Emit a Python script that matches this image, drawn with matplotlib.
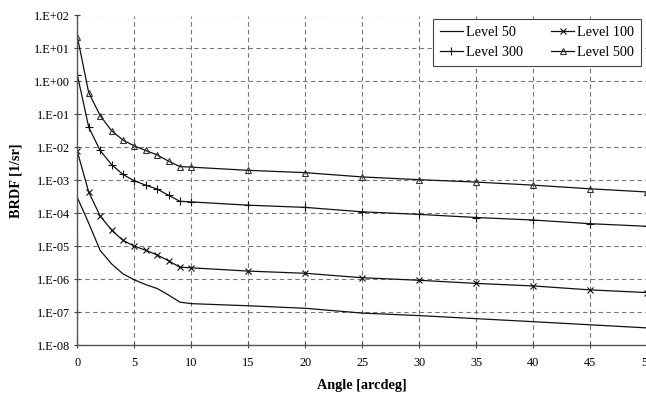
import math
import matplotlib
matplotlib.use("Agg")
import matplotlib.pyplot as plt
from matplotlib.ticker import FixedLocator, FuncFormatter

plt.rcParams['font.family'] = ['Liberation Serif', 'DejaVu Serif']

angles = [0, 1, 2, 3, 4, 5, 6, 7, 8, 9, 10, 15, 20, 25, 30, 35, 40, 45, 50]

level_50 = [3.0e-4, 5.0e-5, 7.5e-6, 2.9e-6, 1.45e-6, 9.5e-7, 6.8e-7, 5.2e-7, 3.3e-7, 2.0e-7, 1.8e-7,
            1.55e-7, 1.3e-7, 9.3e-8, 7.8e-8, 6.3e-8, 5.1e-8, 4.1e-8, 3.3e-8]
level_100 = [7.5e-3, 4.4e-4, 8.3e-5, 3.1e-5, 1.5e-5, 1.0e-5, 7.5e-6, 5.4e-6, 3.6e-6, 2.3e-6, 2.2e-6,
             1.75e-6, 1.5e-6, 1.1e-6, 9.2e-7, 7.4e-7, 6.2e-7, 4.7e-7, 3.9e-7]
level_300 = [1.6, 4.1e-2, 8.0e-3, 3.0e-3, 1.5e-3, 9.6e-4, 7.1e-4, 5.4e-4, 3.5e-4, 2.3e-4, 2.2e-4,
             1.75e-4, 1.5e-4, 1.1e-4, 9.2e-5, 7.4e-5, 6.2e-5, 4.8e-5, 4.0e-5]
level_500 = [23.0, 0.46, 0.092, 0.032, 0.0166, 0.011, 0.0080, 0.0059, 0.0038, 0.0026, 0.0025,
             2.0e-3, 1.7e-3, 1.26e-3, 1.04e-3, 8.8e-4, 7.1e-4, 5.5e-4, 4.4e-4]

x_ticks = [0, 5, 10, 15, 20, 25, 30, 35, 40, 45, 50]
y_ticks = [1e2, 1e1, 1e0, 1e-1, 1e-2, 1e-3, 1e-4, 1e-5, 1e-6, 1e-7, 1e-8]

fig = plt.figure(figsize=(6.46, 3.97), dpi=100)
ax = fig.add_axes([77.3 / 646, 1 - 345 / 397, (647.3 - 77.3) / 646, (345 - 15.5) / 397])

h50, = ax.plot(angles, level_50, color='#111111', lw=0.9, label='Level 50')
h100, = ax.plot(angles, level_100, color='#111111', lw=0.9, marker='x', ms=4.5, mew=0.8, label='Level 100')
h300, = ax.plot(angles, level_300, color='#111111', lw=0.9, marker='+', ms=6, mew=0.8, label='Level 300')
h500, = ax.plot(angles, level_500, color='#111111', lw=0.9, marker='^', ms=4.5, mew=0.8,
                mfc='none', mec='#333333', label='Level 500')

ax.set_yscale('log')
ax.set_xlim(0, 50)
ax.set_ylim(1e-8, 1e2)
ax.xaxis.set_major_locator(FixedLocator(x_ticks))
ax.yaxis.set_major_locator(FixedLocator(y_ticks))
ax.yaxis.set_minor_locator(FixedLocator([]))


def fmt(v, pos):
    e = int(round(math.log10(v)))
    return '1.E%s%02d' % ('+' if e >= 0 else '-', abs(e))


ax.yaxis.set_major_formatter(FuncFormatter(fmt))
ax.tick_params(axis='both', labelsize=8.8, direction='inout', length=5, width=0.8,
               colors='#444444', labelcolor='black')
ax.tick_params(axis='x', pad=6)
ax.tick_params(axis='y', pad=3)

ax.grid(True, which='major', color='#777777', linestyle=(0, (4, 3)), linewidth=0.8)
for s in ['top', 'right']:
    ax.spines[s].set_visible(False)
for s in ['left', 'bottom']:
    ax.spines[s].set_color('#555555')
    ax.spines[s].set_linewidth(1.0)

ax.set_xlabel('Angle [arcdeg]', fontsize=10.3, fontweight='bold', labelpad=7)
ax.set_ylabel('BRDF [1/sr]', fontsize=10.3, fontweight='bold', labelpad=8)

leg = ax.legend([h50, h300, h100, h500], ['Level 50', 'Level 300', 'Level 100', 'Level 500'],
                loc='upper right', ncol=2, fontsize=10.3, frameon=True, fancybox=False,
                edgecolor='#444444', handlelength=1.6, handletextpad=0.2,
                columnspacing=2.0, borderpad=0.5, labelspacing=0.45, borderaxespad=0,
                bbox_to_anchor=(0.989, 0.989))
leg.get_frame().set_linewidth(0.8)
leg.get_frame().set_alpha(1)

fig.savefig('out.png', dpi=100)
